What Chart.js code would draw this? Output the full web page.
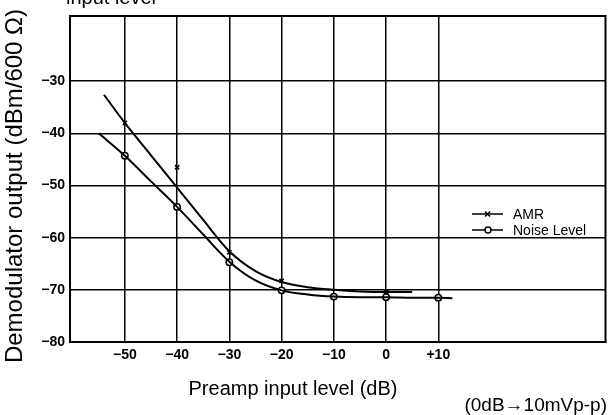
<!DOCTYPE html>
<html>
<head>
<meta charset="utf-8">
<script src="https://cdn.jsdelivr.net/npm/chart.js@4.4.1/dist/chart.umd.min.js"></script>
<style>
  html, body { margin: 0; padding: 0; background: #fff; }
  #wrap { width: 611px; height: 415px; }
</style>
</head>
<body>
<div id="wrap"><canvas id="myChart"></canvas></div>
<script>
// preamp input levels (dB) where measurements were taken
const inputLevels = [-50, -40, -30, -20, -10, 0, 10];
// measured points (dBm/600 ohm)
const amrPoints = [-38.0, -46.5, -62.8, -68.3, null, -70.4, null];
const noisePoints = [-44.3, -54.1, -64.7, -70.1, -71.3, -71.4, -71.5];

// fitted curves
const amrCurveLevels = [-54, -50, -45, -40, -35, -30, -25, -20, -15, -10, -5, 0, 5];
const amrCurve = [-32.6, -38.0, -44.2, -50.4, -56.6, -62.6, -66.4, -68.5, -69.5, -70.0, -70.3, -70.4, -70.4];
const noiseCurveLevels = [-55, -50, -45, -40, -35, -30, -25, -20, -15, -10, -5, 0, 5, 10, 12.7];
const noiseCurve = [-40.0, -44.3, -49.2, -54.1, -59.4, -64.6, -68.2, -70.1, -70.9, -71.3, -71.4, -71.4, -71.5, -71.5, -71.6];

// tick labels
const xTicks = [-50, -40, -30, -20, -10, 0, 10];
const yTicks = [-80, -70, -60, -50, -40, -30];

const FONT = '"Liberation Sans", Arial, sans-serif';

const toXY = (xs, ys) => xs.map((x, i) => ({ x, y: ys[i] })).filter(p => p.y !== null);

// border round the plot + titles + legend
const decor = {
  id: 'decor',
  beforeDatasetsDraw(chart) {
    const { ctx, chartArea: a } = chart;
    ctx.save();
    ctx.strokeStyle = '#000';
    ctx.lineWidth = 2;
    ctx.strokeRect(a.left, a.top, a.right - a.left, a.bottom - a.top);
    ctx.restore();
  },
  afterDraw(chart) {
    const { ctx } = chart;
    ctx.save();
    ctx.fillStyle = '#000';
    ctx.strokeStyle = '#000';

    // cut-off heading at the very top
    ctx.font = '20px ' + FONT;
    ctx.textAlign = 'left';
    ctx.textBaseline = 'alphabetic';
    ctx.fillText('input level', 66, 4);

    // y title
    ctx.save();
    ctx.translate(15, 186);
    ctx.rotate(-Math.PI / 2);
    ctx.font = '24px ' + FONT;
    ctx.textAlign = 'center';
    ctx.textBaseline = 'middle';
    ctx.fillText('Demodulator output (dBm/600 \u03a9)', 0, 0);
    ctx.restore();

    // x title
    ctx.font = '20px ' + FONT;
    ctx.textAlign = 'center';
    ctx.textBaseline = 'middle';
    ctx.fillText('Preamp input level (dB)', 293, 389);

    ctx.font = '19px ' + FONT;
    ctx.textAlign = 'right';
    ctx.fillText('(0dB\u219210mVp-p)', 607, 406);

    // legend
    const rows = [
      { label: 'AMR', y: 214, marker: 'x' },
      { label: 'Noise Level', y: 230, marker: 'o' }
    ];
    ctx.font = '14px ' + FONT;
    ctx.textAlign = 'left';
    rows.forEach(r => {
      ctx.lineWidth = 1.5;
      ctx.beginPath();
      ctx.moveTo(472, r.y);
      ctx.lineTo(503, r.y);
      ctx.stroke();
      if (r.marker === 'x') {
        ctx.beginPath();
        ctx.moveTo(485, r.y - 2.5); ctx.lineTo(490, r.y + 2.5);
        ctx.moveTo(490, r.y - 2.5); ctx.lineTo(485, r.y + 2.5);
        ctx.stroke();
      } else {
        ctx.beginPath();
        ctx.arc(488, r.y, 3, 0, Math.PI * 2);
        ctx.fillStyle = '#fff';
        ctx.fill();
        ctx.stroke();
        ctx.fillStyle = '#000';
      }
      ctx.fillText(r.label, 513, r.y + 1);
    });
    ctx.restore();
  }
};

const ctx = document.getElementById('myChart').getContext('2d');
new Chart(ctx, {
  type: 'line',
  data: {
    datasets: [
      {
        label: 'AMR curve',
        data: toXY(amrCurveLevels, amrCurve),
        borderColor: '#000',
        borderWidth: 2,
        pointRadius: 0,
        cubicInterpolationMode: 'monotone'
      },
      {
        label: 'Noise Level curve',
        data: toXY(noiseCurveLevels, noiseCurve),
        borderColor: '#000',
        borderWidth: 2,
        pointRadius: 0,
        cubicInterpolationMode: 'monotone'
      },
      {
        label: 'AMR',
        data: toXY(inputLevels, amrPoints),
        showLine: false,
        pointStyle: 'crossRot',
        pointRadius: 3,
        borderColor: '#000',
        borderWidth: 1.5
      },
      {
        label: 'Noise Level',
        data: toXY(inputLevels, noisePoints),
        showLine: false,
        pointStyle: 'circle',
        pointRadius: 3.2,
        backgroundColor: '#fff',
        borderColor: '#000',
        borderWidth: 1.5
      }
    ]
  },
  options: {
    responsive: true,
    maintainAspectRatio: false,
    animation: false,
    layout: { padding: { top: 16, right: 4, left: 0, bottom: 0 } },
    plugins: {
      legend: { display: false },
      title: { display: false },
      tooltip: { enabled: false }
    },
    scales: {
      x: {
        type: 'linear',
        min: -60.5,
        max: 42,
        afterBuildTicks: axis => { axis.ticks = xTicks.map(v => ({ value: v })); },
        afterFit: scale => { scale.height = 73; },
        grid: { color: '#000', lineWidth: 1.5, drawTicks: false },
        border: { display: true, color: '#000', width: 2 },
        ticks: {
          padding: 5,
          color: '#000',
          maxRotation: 0,
          font: { family: FONT, size: 14, weight: 'bold' },
          callback: v => v > 0 ? '+' + v : v < 0 ? '\u2212' + (-v) : '0'
        }
      },
      y: {
        min: -80,
        max: -17.5,
        afterBuildTicks: axis => { axis.ticks = yTicks.map(v => ({ value: v })); },
        afterFit: scale => { scale.width = 70; },
        grid: { color: '#000', lineWidth: 1.5, drawTicks: false },
        border: { display: true, color: '#000', width: 2 },
        ticks: {
          padding: 5,
          color: '#000',
          font: { family: FONT, size: 14, weight: 'bold' },
          callback: v => '\u2212' + (-v)
        }
      }
    }
  },
  plugins: [decor]
});
</script>
</body>
</html>
